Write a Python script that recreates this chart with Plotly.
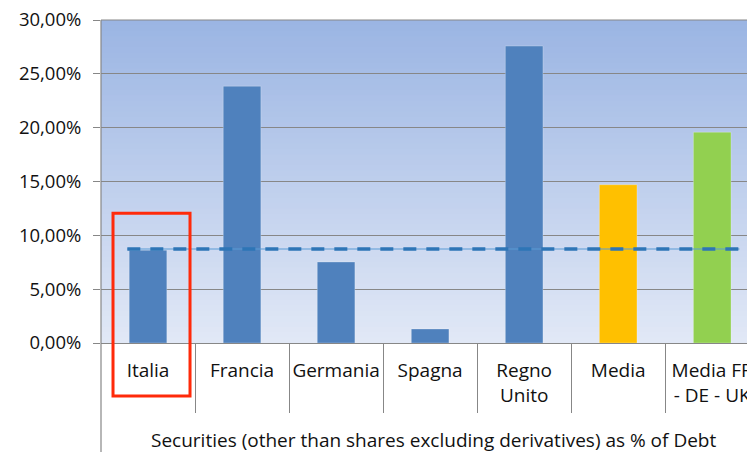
import plotly.graph_objects as go

categories = ["Italia", "Francia", "Germania", "Spagna", "Regno<br>Unito", "Media", "Media FR<br>- DE - UK"]
values = [0.0862, 0.2385, 0.0752, 0.0130, 0.2758, 0.1470, 0.1958]
bar_colors = ["#4f81bd", "#4f81bd", "#4f81bd", "#4f81bd", "#4f81bd", "#ffc000", "#92d050"]
avg_value = 0.0873
avg_line_x = [-0.22, 6.29]
y_ticks = [0, 0.05, 0.10, 0.15, 0.20, 0.25, 0.30]

FONT = "Open Sans"
GRID = "#878787"
x_idx = list(range(len(categories)))

fig = go.Figure()
fig.add_trace(go.Bar(
    x=x_idx, y=values, width=0.4,
    marker=dict(color=bar_colors, line=dict(color="rgba(255,255,255,0.25)", width=1)),
    showlegend=False, hoverinfo="skip",
))
fig.add_trace(go.Scatter(
    x=avg_line_x, y=[avg_value, avg_value], mode="lines",
    line=dict(color="#5b9bd5", width=1.2), showlegend=False, hoverinfo="skip",
))
fig.add_trace(go.Scatter(
    x=avg_line_x, y=[avg_value, avg_value], mode="lines",
    line=dict(color="#2e75b6", width=3.5, dash="13px,10px"), showlegend=False, hoverinfo="skip",
))

# gradient background
shapes = []
n = 60
top = (155, 181, 227)
bot = (225, 232, 246)
for i in range(n):
    t = i / (n - 1)
    c = tuple(round(bot[k] + (top[k] - bot[k]) * t) for k in range(3))
    shapes.append(dict(type="rect", xref="paper", yref="paper",
                       x0=0, x1=1, y0=i / n, y1=(i + 1.5) / n if i < n - 1 else 1,
                       fillcolor="rgb(%d,%d,%d)" % c, line=dict(width=0), layer="below"))
# top border (30% gridline)
shapes.append(dict(type="line", xref="paper", yref="paper", x0=0, x1=1, y0=1, y1=1,
                   line=dict(color=GRID, width=1.2)))
# extended y axis line
shapes.append(dict(type="line", xref="paper", yref="paper", x0=0, x1=0, y0=-0.34, y1=1,
                   line=dict(color=GRID, width=1.2)))
# red highlight box
shapes.append(dict(type="rect", xref="paper", yref="paper", x0=0.0186, x1=0.1378,
                   y0=-0.164, y1=0.402, line=dict(color="#ff2a0a", width=3),
                   fillcolor="rgba(0,0,0,0)"))

fig.update_layout(
    width=747, height=452,
    margin=dict(l=101, r=0, t=20, b=109, autoexpand=False),
    paper_bgcolor="white", plot_bgcolor="rgba(0,0,0,0)",
    separators=", ",
    font=dict(family=FONT, size=19, color="#111"),
    shapes=shapes,
    annotations=[dict(text="Securities (other than shares excluding derivatives) as % of Debt",
                      xref="paper", yref="paper", x=0.515, y=-0.30, xanchor="center",
                      yanchor="middle", showarrow=False, font=dict(family=FONT, size=19, color="#111"))],
)
fig.update_xaxes(
    range=[-0.5, 6.37], tickmode="array", tickvals=x_idx, ticktext=categories,
    ticks="", showgrid=False, showline=True, linecolor=GRID, linewidth=1.2,
    zeroline=False, ticklabelstandoff=10, ticklabeloverflow="allow", automargin=False,
    minor=dict(tickmode="array", tickvals=[i + 0.5 for i in x_idx[:-1]], ticks="outside",
               ticklen=69, tickcolor=GRID, tickwidth=1.2, showgrid=False),
)
fig.update_yaxes(
    range=[0, 0.30], tickmode="array", tickvals=y_ticks, tickformat=".2%",
    tickfont=dict(size=18.5), automargin=False,
    showgrid=True, gridcolor=GRID, gridwidth=1.2, zeroline=False,
    showline=False, ticks="outside", ticklen=7, tickcolor=GRID, tickwidth=1.2,
    ticklabelstandoff=8,
)
fig.write_html("out.html", config={"displayModeBar": False},
               post_script="document.body.style.margin='0';document.body.style.overflow='hidden';")
